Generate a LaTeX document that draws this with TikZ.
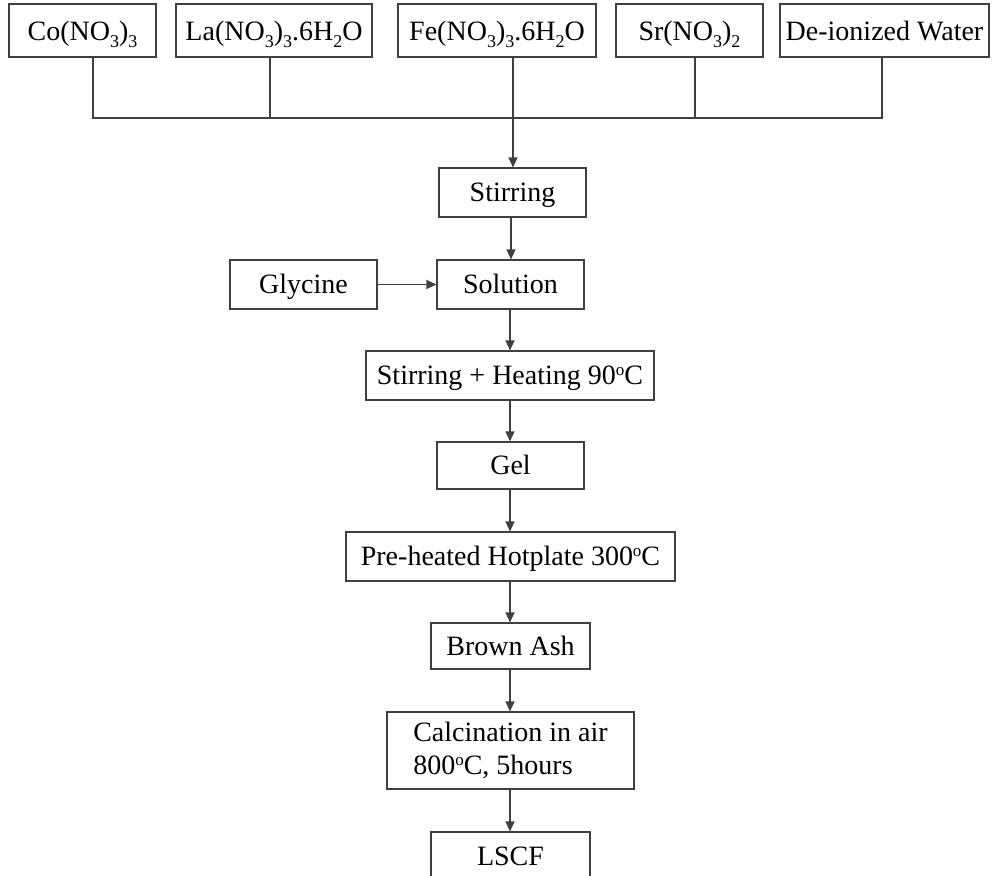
\documentclass[tikz,border=0pt]{standalone}
\usepackage{fontspec}
\setmainfont{Liberation Serif}
\usetikzlibrary{arrows.meta}
\newcommand\chsub[1]{\raisebox{-7pt}{\fontsize{18}{18}\selectfont #1}}
\newcommand\degsup{\raisebox{9pt}{\fontsize{17}{17}\selectfont o}}
\begin{document}
\begin{tikzpicture}[x=1pt,y=-1pt,
  box/.style={draw=black!75, line width=1.1pt, minimum height=49pt, inner sep=0pt,
    font=\fontsize{28}{33}\selectfont, text=black, text height=20pt, text depth=2pt},
  topbox/.style={box, minimum height=53pt, text depth=0pt},
  link/.style={draw=black!75, line width=1.1pt},
  arr/.style={link, -{Triangle[length=10pt,width=9pt]}}]
\useasboundingbox (0,0) rectangle (997,876);
\clip (0,0) rectangle (997,876);
% top row
\node[topbox, minimum width=147pt] (co) at (82.5,30.5) {Co(NO\chsub{3})\chsub{3}};
\node[topbox, minimum width=196pt] (la) at (274,30.5) {La(NO\chsub{3})\chsub{3}.6H\chsub{2}O};
\node[topbox, minimum width=198pt] (fe) at (497,30.5) {Fe(NO\chsub{3})\chsub{3}.6H\chsub{2}O};
\node[topbox, minimum width=147pt] (sr) at (689.5,30.5) {Sr(NO\chsub{3})\chsub{2}};
\node[topbox, minimum width=209pt] (dw) at (884.5,30.5) {De-ionized Water};
% chain
\node[box, minimum width=147pt] (st) at (512.5,192.5) {Stirring};
\node[box, minimum width=147pt] (gl) at (303.5,284.5) {Glycine};
\node[box, minimum width=147pt] (so) at (510.5,284.5) {Solution};
\node[box, minimum width=288pt] (sh) at (510,375.5) {Stirring + Heating 90\degsup C};
\node[box, minimum width=147pt, minimum height=47pt] (ge) at (510.5,465.5) {Gel};
\node[box, minimum width=329pt] (ph) at (510.5,556.5) {Pre-heated Hotplate 300\degsup C};
\node[box, minimum width=159pt, minimum height=46pt] (ba) at (510.5,646) {Brown Ash};
\node[box, minimum width=247pt, minimum height=77pt, align=left, text height={}, text depth={}] (ca) at (510.5,750.5) {Calcination in air\\800\degsup C, 5hours};
\node[box, minimum width=159pt] (ls) at (510.5,856.5) {LSCF};
% bus
\coordinate (bl) at (93,118);
\coordinate (br) at (882,118);
\draw[link] (co.south -| bl) -- (bl) -- (br) -- (dw.south -| br);
\draw[link] (la.south -| 270,0) -- (270,118);
\draw[link] (sr.south -| 695,0) -- (695,118);
\draw[arr] (fe.south -| 513,0) -- (st.north -| 513,0);
% flow
\draw[arr] (st.south -| 511,0) -- (so.north -| 511,0);
\draw[arr] (gl.east) -- (so.west);
\draw[arr] (so.south -| 510,0) -- (sh.north -| 510,0);
\draw[arr] (sh.south -| 510,0) -- (ge.north -| 510,0);
\draw[arr] (ge.south -| 510,0) -- (ph.north -| 510,0);
\draw[arr] (ph.south -| 510,0) -- (ba.north -| 510,0);
\draw[arr] (ba.south -| 510,0) -- (ca.north -| 510,0);
\draw[arr] (ca.south -| 510,0) -- (ls.north -| 510,0);
\end{tikzpicture}
\end{document}
